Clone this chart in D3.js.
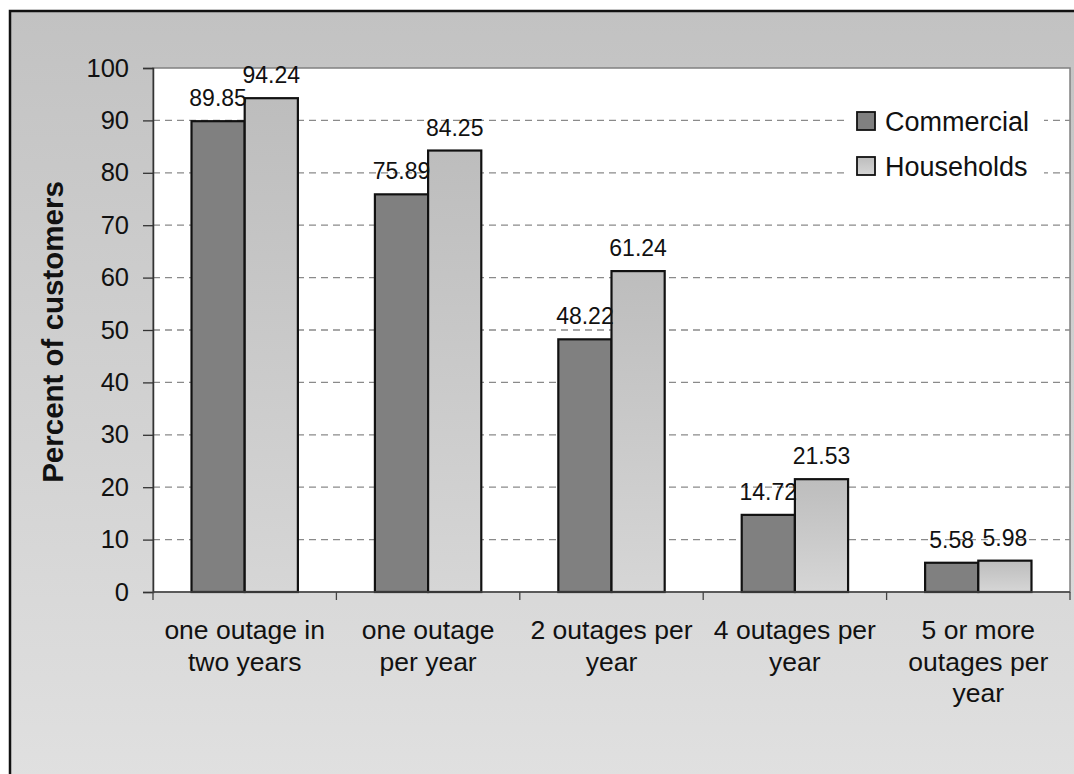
<!DOCTYPE html>
<html>
<head>
<meta charset="utf-8">
<script src="https://cdn.jsdelivr.net/npm/d3@7/dist/d3.min.js"></script>
<style>
  html, body { margin: 0; padding: 0; background: #ffffff; }
  svg { display: block; font-family: "Liberation Sans", Arial, sans-serif; }
</style>
</head>
<body>
<div id="chart"></div>
<script>
/* ---------------- data ---------------- */
const categories = [
    ["one outage in", "two years"],
    ["one outage", "per year"],
    ["2 outages per", "year"],
    ["4 outages per", "year"],
    ["5 or more", "outages per", "year"]
];
const seriesNames = ["Commercial", "Households"];
const commercial = [89.85, 75.89, 48.22, 14.72, 5.58];
const households = [94.24, 84.25, 61.24, 21.53, 5.98];
const yTicks = [0, 10, 20, 30, 40, 50, 60, 70, 80, 90, 100];

/* ---------------- setup ---------------- */
const width = 1074, height = 774;
const plot = { left: 153, right: 1070, top: 68, bottom: 592 };

const svg = d3.select("#chart").append("svg")
    .attr("width", width)
    .attr("height", height);

const defs = svg.append("defs");

const bg = defs.append("linearGradient")
    .attr("id", "bgGrad")
    .attr("x1", 0).attr("y1", 0).attr("x2", 0).attr("y2", 1);
bg.append("stop").attr("offset", "0%").attr("stop-color", "#c2c2c2");
bg.append("stop").attr("offset", "100%").attr("stop-color", "#e1e1e1");

const hh = defs.append("linearGradient")
    .attr("id", "hhGrad")
    .attr("x1", 0).attr("y1", 0).attr("x2", 0).attr("y2", 1);
hh.append("stop").attr("offset", "0%").attr("stop-color", "#bdbdbd");
hh.append("stop").attr("offset", "100%").attr("stop-color", "#d6d6d6");

const fills = ["#808080", "url(#hhGrad)"];

// chart area background + frame
svg.append("rect")
    .attr("x", 10).attr("y", 11)
    .attr("width", width + 20).attr("height", height + 20)
    .attr("fill", "url(#bgGrad)")
    .attr("stroke", "#111")
    .attr("stroke-width", 2.5);

// plot area
svg.append("rect")
    .attr("x", plot.left).attr("y", plot.top)
    .attr("width", plot.right - plot.left)
    .attr("height", plot.bottom - plot.top)
    .attr("fill", "#ffffff")
    .attr("stroke", "#808080")
    .attr("stroke-width", 1.5);

/* ---------------- scales ---------------- */
const x0 = d3.scaleBand()
    .domain(d3.range(categories.length))
    .range([plot.left, plot.right])
    .paddingInner(0.42)
    .paddingOuter(0.21);

const x1 = d3.scaleBand()
    .domain(seriesNames)
    .range([0, x0.bandwidth()]);

const y = d3.scaleLinear()
    .domain([0, 100])
    .range([plot.bottom, plot.top]);

/* ---------------- grid ---------------- */
svg.append("g")
    .selectAll("line")
    .data(yTicks.filter(d => d > 0 && d < 100))
    .enter()
    .append("line")
    .attr("x1", plot.left).attr("x2", plot.right)
    .attr("y1", d => y(d)).attr("y2", d => y(d))
    .attr("stroke", "#8a8a8a")
    .attr("stroke-width", 1.3)
    .attr("stroke-dasharray", "7,5");

/* ---------------- legend (white box over grid) ---------------- */
const legend = svg.append("g").attr("transform", "translate(848,100)");
legend.append("rect")
    .attr("width", 196).attr("height", 88)
    .attr("fill", "#ffffff");

seriesNames.forEach((name, i) => {
    const row = legend.append("g").attr("transform", `translate(9,${12 + i * 45})`);
    row.append("rect")
        .attr("width", 18).attr("height", 18)
        .attr("fill", fills[i])
        .attr("stroke", "#111")
        .attr("stroke-width", 1.8);
    row.append("text")
        .attr("x", 28).attr("y", 19)
        .attr("font-size", 27)
        .attr("fill", "#111")
        .text(name);
});

/* ---------------- bars ---------------- */
const rows = categories.map((c, i) => ({
    i,
    values: [commercial[i], households[i]]
}));

const groups = svg.append("g")
    .selectAll("g")
    .data(rows)
    .enter()
    .append("g")
    .attr("transform", d => `translate(${x0(d.i)},0)`);

groups.selectAll("rect")
    .data(d => d.values.map((v, k) => ({ key: seriesNames[k], k, v })))
    .enter()
    .append("rect")
    .attr("x", d => x1(d.key))
    .attr("y", d => y(d.v))
    .attr("width", x1.bandwidth())
    .attr("height", d => y(0) - y(d.v))
    .attr("fill", d => fills[d.k])
    .attr("stroke", "#111")
    .attr("stroke-width", 2.2);

groups.selectAll("text")
    .data(d => d.values.map((v, k) => ({ key: seriesNames[k], k, v })))
    .enter()
    .append("text")
    .attr("x", d => x1(d.key) + x1.bandwidth() / 2)
    .attr("y", d => y(d.v) - 15)
    .attr("text-anchor", "middle")
    .attr("font-size", 23)
    .attr("fill", "#111")
    .text(d => d.v.toFixed(2));

/* ---------------- axes ---------------- */
const yAxis = svg.append("g")
    .attr("transform", `translate(${plot.left},0)`)
    .call(d3.axisLeft(y).tickValues(yTicks).tickSize(10).tickPadding(14));
yAxis.select(".domain").attr("stroke", "#333").attr("stroke-width", 1.5);
yAxis.selectAll(".tick line").attr("stroke", "#333").attr("stroke-width", 1.3);
yAxis.selectAll(".tick text")
    .attr("font-size", 25.5)
    .attr("fill", "#111")
    .attr("font-family", "Liberation Sans, Arial, sans-serif");

// bottom axis line
svg.append("line")
    .attr("x1", plot.left).attr("x2", plot.right)
    .attr("y1", y(0)).attr("y2", y(0))
    .attr("stroke", "#444")
    .attr("stroke-width", 1.5);

// category boundary ticks
const step = x0.step();
svg.append("g")
    .selectAll("line")
    .data(d3.range(categories.length + 1))
    .enter()
    .append("line")
    .attr("x1", d => plot.left + d * step)
    .attr("x2", d => plot.left + d * step)
    .attr("y1", y(0)).attr("y2", y(0) + 8)
    .attr("stroke", "#444")
    .attr("stroke-width", 1.3);

// category labels
const catLabels = svg.append("g")
    .selectAll("text")
    .data(rows)
    .enter()
    .append("text")
    .attr("x", d => x0(d.i) + x0.bandwidth() / 2)
    .attr("y", 639)
    .attr("text-anchor", "middle")
    .attr("font-size", 26.5)
    .attr("fill", "#111");

catLabels.selectAll("tspan")
    .data(d => categories[d.i])
    .enter()
    .append("tspan")
    .attr("x", function () { return d3.select(this.parentNode).attr("x"); })
    .attr("dy", (d, j) => j === 0 ? 0 : 31.5)
    .text(d => d);

// y axis title
svg.append("text")
    .attr("transform", "translate(63,332) rotate(-90)")
    .attr("text-anchor", "middle")
    .attr("font-size", 29.5)
    .attr("font-weight", "bold")
    .attr("fill", "#111")
    .text("Percent of customers");
</script>
</body>
</html>
